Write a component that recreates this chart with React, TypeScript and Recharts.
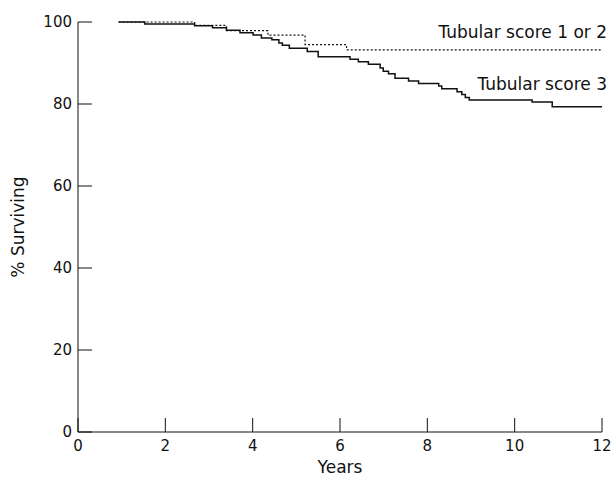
import React from 'react';
import { LineChart, Line, XAxis, YAxis, ReferenceDot } from 'recharts';

const xTicks = [0, 2, 4, 6, 8, 10, 12];
const yTicks = [0, 20, 40, 60, 80, 100];

const score3Times = [0.93, 1.53, 2.67, 3.08, 3.40, 3.71, 4.01, 4.20, 4.44, 4.60, 4.68, 4.84, 5.25, 5.50, 6.23, 6.42, 6.65, 6.92, 6.99, 7.11, 7.26, 7.57, 7.80, 8.26, 8.33, 8.68, 8.79, 8.87, 8.96, 10.40, 10.86, 12.0];
const score3Surv = [100, 99.5, 99.1, 98.6, 98.0, 97.4, 96.8, 96.1, 95.7, 94.9, 94.3, 93.6, 92.8, 91.5, 90.9, 90.3, 89.7, 88.8, 88.0, 87.4, 86.3, 85.6, 85.0, 84.4, 83.7, 83.0, 82.3, 81.6, 81.0, 80.5, 79.3, 79.3];

const score12Times = [0.93, 2.67, 3.40, 4.35, 5.20, 6.15, 12.0];
const score12Surv = [100, 99.2, 97.9, 96.8, 94.5, 93.2, 93.2];

const seriesNames = ['Tubular score 1 or 2', 'Tubular score 3'];
const labelAnchorX = [12, 12];
const labelAnchorY = [96, 83.4];

const score3Data = score3Times.map((t, i) => ({ t, s: score3Surv[i] }));
const score12Data = score12Times.map((t, i) => ({ t, s: score12Surv[i] }));

const FONT = 'DejaVu Sans';
const INK = '#111';

const AnnoLabel = (props: any) => {
  const { viewBox, text } = props;
  if (!viewBox) return null;
  return (
    <text x={viewBox.x + 5} y={viewBox.y} textAnchor="end" fontFamily={FONT} fontSize={17} fill={INK}>
      {text}
    </text>
  );
};

export default function App() {
  return (
    <div style={{ position: 'absolute', left: 0, top: 0, background: '#fff' }}>
      <LineChart width={616} height={480} margin={{ top: 22, right: 14, bottom: 0, left: 0 }}>
        <XAxis
          type="number"
          dataKey="t"
          domain={[0, 12]}
          ticks={xTicks}
          allowDataOverflow
          height={48}
          stroke={INK}
          tickSize={-14}
          tickMargin={22}
          tick={{ fontSize: 15, fill: INK, fontFamily: FONT }}
          label={{ value: 'Years', position: 'insideBottom', offset: 7, fontSize: 17, fill: INK, fontFamily: FONT }}
        />
        <YAxis
          type="number"
          domain={[0, 100]}
          ticks={yTicks}
          width={78}
          stroke={INK}
          tickSize={-14}
          tickMargin={20}
          tick={{ fontSize: 15, fill: INK, fontFamily: FONT }}
          label={{ value: '% Surviving', angle: -90, position: 'insideLeft', offset: 18, fontSize: 17, fill: INK, fontFamily: FONT, style: { textAnchor: 'middle' } }}
        />
        <Line
          data={score12Data}
          dataKey="s"
          type="stepAfter"
          stroke={INK}
          strokeWidth={1.2}
          strokeDasharray="2 2"
          dot={false}
          activeDot={false}
          isAnimationActive={false}
        />
        <Line
          data={score3Data}
          dataKey="s"
          type="stepAfter"
          stroke={INK}
          strokeWidth={1.5}
          dot={false}
          activeDot={false}
          isAnimationActive={false}
        />
        {seriesNames.map((name, i) => (
          <ReferenceDot
            key={name}
            x={labelAnchorX[i]}
            y={labelAnchorY[i]}
            r={0}
            fill="none"
            stroke="none"
            ifOverflow="visible"
            label={<AnnoLabel text={name} />}
          />
        ))}
      </LineChart>
    </div>
  );
}
